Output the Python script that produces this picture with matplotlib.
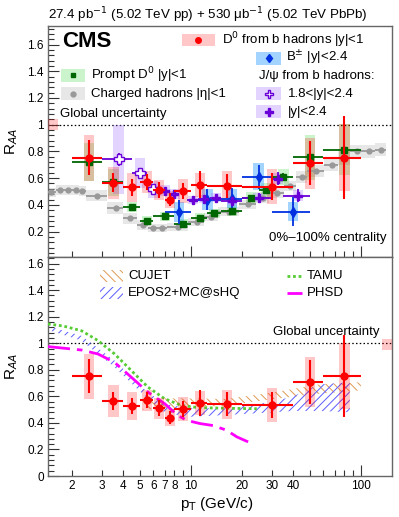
import numpy as np
import matplotlib
matplotlib.use('Agg')
import matplotlib.pyplot as plt
from matplotlib.patches import Rectangle
from matplotlib.lines import Line2D
from matplotlib.ticker import FixedLocator, FuncFormatter, MultipleLocator

plt.rcParams['font.family'] = ['Liberation Sans', 'DejaVu Sans']
plt.rcParams['hatch.linewidth'] = 0.7

# D0 from b hadrons |y|<1 (red)
np_pt = [2.5, 3.5, 4.5, 5.5, 6.5, 7.5, 9.0, 11.25, 16.25, 30.0, 50.0, 80.0]
np_lo = [2, 3, 4, 5, 6, 7, 8, 10, 12.5, 20, 40, 60]
np_hi = [3, 4, 5, 6, 7, 8, 10, 12.5, 20, 40, 60, 100]
np_raa = [0.752, 0.565, 0.53, 0.57, 0.51, 0.44, 0.505, 0.55, 0.54, 0.535, 0.71, 0.752]
np_stat = [0.13, 0.07, 0.06, 0.06, 0.06, 0.05, 0.06, 0.10, 0.09, 0.10, 0.165, 0.31]
np_sys = [0.17, 0.12, 0.105, 0.08, 0.077, 0.065, 0.09, 0.09, 0.11, 0.13, 0.19, 0.25]

# prompt D0 |y|<1 (green)
pd_pt = [2.5, 3.5, 4.5, 5.5, 7, 9, 11.25, 13.75, 17.5, 22.5, 27.5, 35, 50, 80]
pd_lo = [2, 3, 4, 5, 6, 8, 10, 12.5, 15, 20, 25, 30, 40, 60]
pd_hi = [3, 4, 5, 6, 8, 10, 12.5, 15, 20, 25, 30, 40, 60, 100]
pd_raa = [0.72, 0.57, 0.385, 0.282, 0.315, 0.258, 0.303, 0.337, 0.357, 0.452, 0.51, 0.61, 0.755, 0.812]
pd_stat = [0.03, 0.03, 0.02, 0.015, 0.015, 0.015, 0.015, 0.015, 0.02, 0.025, 0.03, 0.03, 0.04, 0.05]
pd_sys = [0.14, 0.10, 0.04, 0.035, 0.035, 0.035, 0.035, 0.035, 0.04, 0.045, 0.05, 0.06, 0.17, 0.19]

# charged hadrons |eta|<1 (gray)
ch_lo = [1.4, 1.6, 1.8, 2.0, 2.2, 2.4, 3.2, 4.0, 4.8, 5.6, 6.4, 7.2, 9.6, 12.0, 14.4, 19.2,
         24.0, 28.8, 35.2, 41.6, 48.0, 60.8, 73.6, 86.4, 103.6, 120.8]
ch_hi = [1.6, 1.8, 2.0, 2.2, 2.4, 3.2, 4.0, 4.8, 5.6, 6.4, 7.2, 9.6, 12.0, 14.4, 19.2, 24.0,
         28.8, 35.2, 41.6, 48.0, 60.8, 73.6, 86.4, 103.6, 120.8, 140.0]
ch_raa = [0.494, 0.512, 0.512, 0.512, 0.505, 0.47, 0.377, 0.30, 0.25, 0.23, 0.228, 0.235,
          0.27, 0.31, 0.35, 0.405, 0.455, 0.49, 0.542, 0.605, 0.655, 0.697, 0.75, 0.80, 0.80, 0.814]
ch_sys = [0.035, 0.035, 0.035, 0.035, 0.035, 0.04, 0.045, 0.04, 0.035, 0.03, 0.03, 0.03,
          0.03, 0.03, 0.035, 0.035, 0.04, 0.04, 0.04, 0.045, 0.045, 0.045, 0.05, 0.05, 0.05, 0.05]

# B+- |y|<2.4 (blue)
b_pt = [8.5, 12.5, 17.5, 25, 40]
b_lo = [7, 10, 15, 20, 30]
b_hi = [10, 15, 20, 30, 50]
b_raa = [0.345, 0.44, 0.445, 0.612, 0.35]
b_stat = [0.09, 0.08, 0.08, 0.09, 0.11]
b_sys = [0.075, 0.08, 0.07, 0.10, 0.07]

# J/psi from b hadrons 1.8<|y|<2.4 (open purple)
jo_pt = [3.75, 5.0, 6.0]
jo_lo = [3, 4.5, 5.5]
jo_hi = [4.5, 5.5, 6.5]
jo_raa = [0.74, 0.637, 0.515]
jo_stat = [0.05, 0.04, 0.03]
jo_sys = [0.26, 0.11, 0.06]

# J/psi from b hadrons |y|<2.4 (filled purple)
jf_pt = [7.0, 8.0, 10.25, 12.0, 14.0, 17.5, 25.0, 32.5, 42.5]
jf_lo = [6.5, 7.5, 9.5, 11, 13, 15, 20, 30, 35]
jf_hi = [7.5, 8.5, 11, 13, 15, 20, 30, 35, 50]
jf_raa = [0.505, 0.48, 0.44, 0.445, 0.455, 0.43, 0.455, 0.595, 0.47]
jf_stat = [0.03, 0.03, 0.025, 0.025, 0.025, 0.025, 0.03, 0.05, 0.05]
jf_sys = [0.04, 0.035, 0.03, 0.03, 0.03, 0.03, 0.035, 0.04, 0.04]

# models
tamu_pt = [1.44, 1.77, 2.27, 2.84, 3.55, 4.46, 5.58, 7.0, 8.77, 11.0, 16.5, 24.4]
tamu_raa = [1.145, 1.13, 1.094, 1.02, 0.92, 0.794, 0.67, 0.582, 0.532, 0.515, 0.51, 0.507]
phsd_pt = [1.44, 2.27, 2.84, 3.55, 4.46, 5.58, 7.0, 8.3, 9.4, 11.3, 13.5, 16.2, 18.6, 21.7]
phsd_raa = [0.975, 0.949, 0.919, 0.856, 0.744, 0.632, 0.545, 0.46, 0.42, 0.395, 0.38, 0.345, 0.295, 0.257]
epos_pt = [1.44, 2.27, 3.55, 5.58, 7.0, 9.5, 16.5, 30.5, 40, 57, 86]
epos_lo = [1.10, 1.02, 0.82, 0.58, 0.48, 0.445, 0.46, 0.48, 0.49, 0.49, 0.48]
epos_hi = [1.13, 1.056, 0.87, 0.63, 0.545, 0.51, 0.51, 0.56, 0.60, 0.69, 0.706]
cujet_pt = [5.2, 7.0, 11.0, 16.2, 30.5, 57, 100]
cujet_lo = [0.50, 0.51, 0.52, 0.53, 0.58, 0.62, 0.645]
cujet_hi = [0.58, 0.585, 0.584, 0.58, 0.63, 0.69, 0.706]

RED = '#ff0000'
GREEN, LGREEN = '#006600', '#00cc00'
BLUE, LBLUE = '#0030e0', '#33a0ff'
PURP, LPURP = '#6a00d8', '#a070ff'
GRAY = '#999999'
RALPHA = 0.22

fig = plt.figure(figsize=(3.99, 5.17), dpi=100)
ax1 = fig.add_axes([0.120, 0.503, 0.862, 0.447])
ax2 = fig.add_axes([0.120, 0.0793, 0.862, 0.4237])


def sysboxes(ax, pt, val, err, color, alpha, z, lo=None, hi=None, hw=0.03):
    for i in range(len(pt)):
        if lo is None:
            x0, x1 = pt[i] * 10 ** -hw, pt[i] * 10 ** hw
        else:
            x0, x1 = lo[i], hi[i]
        ax.add_patch(Rectangle((x0, val[i] - err[i]), x1 - x0, 2 * err[i],
                               facecolor=color, alpha=alpha, lw=0, zorder=z))


def points(ax, pt, val, lo, hi, stat, color, marker, ms, z, mfc=None, elw=1.3):
    pt = np.array(pt)
    ax.errorbar(pt, val, xerr=[pt - np.array(lo), np.array(hi) - pt], yerr=stat,
                fmt=marker, color=color, ms=ms, mfc=mfc or color, mec=color,
                elinewidth=elw, capsize=0, zorder=z)


for ax in (ax1, ax2):
    ax.set_xscale('log')
    ax.set_xlim(1.44, 152)
    ax.axhline(1.0, color='k', ls=(0, (1.2, 1.8)), lw=0.9, zorder=1)
    ax.xaxis.set_major_locator(FixedLocator([10, 100]))
    ax.xaxis.set_minor_locator(FixedLocator([2, 3, 4, 5, 6, 7, 8, 9, 20, 30, 40, 50, 60, 70, 80, 90]))
    ax.yaxis.set_major_locator(MultipleLocator(0.2))
    ax.yaxis.set_minor_locator(MultipleLocator(0.04))
    ax.yaxis.set_major_formatter(FuncFormatter(lambda v, p: '%g' % round(v, 2)))
    ax.tick_params(which='major', direction='in', length=8, width=0.8, labelsize=8.5, pad=3, color='#333333')
    ax.tick_params(which='minor', direction='in', length=4, width=0.8, labelsize=8.5, pad=3, color='#333333')
    for s in ax.spines.values():
        s.set_color('#666666')
        s.set_linewidth(1.0)
    ax.set_ylabel(r'R$_{AA}$', fontsize=11)
    ax.yaxis.set_label_coords(-0.08, 0.5)

ax1.set_ylim(0.01, 1.74)
ax2.set_ylim(0, 1.65)
ax1.tick_params(axis='x', which='both', labelbottom=False)

minor_labels = {2: '2', 3: '3', 4: '4', 5: '5', 6: '6', 7: '7', 8: '8', 20: '20', 30: '30', 40: '40'}
ax2.xaxis.set_major_formatter(FuncFormatter(lambda v, p: '%g' % v))
ax2.xaxis.set_minor_formatter(FuncFormatter(lambda v, p: minor_labels.get(int(round(v)), '')))
ax2.set_xlabel(r'p$_{\rm T}$ (GeV/c)', fontsize=11)
ax2.xaxis.set_label_coords(0.49, -0.085)

# ---------- top panel ----------
ch_pt = [0.5 * (a + b) for a, b in zip(ch_lo, ch_hi)]
sysboxes(ax1, ch_pt, ch_raa, ch_sys, '#bbbbbb', 0.35, 2, ch_lo, ch_hi)
sysboxes(ax1, pd_pt, pd_raa, pd_sys, LGREEN, 0.2, 3)
sysboxes(ax1, b_pt, b_raa, b_sys, LBLUE, 0.45, 3)
sysboxes(ax1, jo_pt, jo_raa, jo_sys, LPURP, 0.3, 3)
sysboxes(ax1, jf_pt, jf_raa, jf_sys, LPURP, 0.3, 3)
sysboxes(ax1, np_pt, np_raa, np_sys, RED, RALPHA, 4)

points(ax1, ch_pt, ch_raa, ch_lo, ch_hi, [0.005] * len(ch_pt), GRAY, 'o', 3.5, 5)
points(ax1, pd_pt, pd_raa, pd_lo, pd_hi, pd_stat, GREEN, 's', 4, 6)
points(ax1, b_pt, b_raa, b_lo, b_hi, b_stat, BLUE, 'd', 5, 6)
points(ax1, jf_pt, jf_raa, jf_lo, jf_hi, jf_stat, PURP, 'P', 6, 6)
points(ax1, jo_pt, jo_raa, jo_lo, jo_hi, jo_stat, PURP, 'P', 7, 6, mfc='white')
points(ax1, np_pt, np_raa, np_lo, np_hi, np_stat, RED, 'o', 5, 7, elw=1.5)

# global uncertainty box (left edge)
ax1.add_patch(Rectangle((0.0, 0.96), 0.028, 0.08, transform=ax1.get_yaxis_transform(),
                        facecolor=RED, alpha=RALPHA, lw=0, zorder=4))

ax1.text(0.041, 0.932, 'CMS', transform=ax1.transAxes, fontsize=16, fontweight='bold', va='center')
ax1.text(0.035, 0.618, 'Global uncertainty', transform=ax1.transAxes, fontsize=9.5, va='center')
ax1.text(0.985, 0.08, '0%\u2013100% centrality', transform=ax1.transAxes, fontsize=9.5,
         va='center', ha='right')


def legbox(ax, x0, x1, yc, h, color, alpha, marker=None, mcolor=None, ms=4.5, mfc=None, hatch=None):
    if hatch:
        ax.add_patch(Rectangle((x0, yc - h / 2), x1 - x0, h, transform=ax.transAxes, facecolor='none',
                               edgecolor=color, hatch=hatch, lw=0, zorder=8))
    else:
        ax.add_patch(Rectangle((x0, yc - h / 2), x1 - x0, h, transform=ax.transAxes, facecolor=color,
                               alpha=alpha, lw=0, zorder=8))
    if marker:
        ax.plot([(x0 + x1) / 2], [yc], marker=marker, color=mcolor, ms=ms, mfc=mfc or mcolor,
                transform=ax.transAxes, zorder=9, ls='none')


legbox(ax1, 0.390, 0.485, 0.939, 0.055, RED, RALPHA, 'o', RED, 4)
ax1.text(0.506, 0.939, r'D$^{0}$ from b hadrons |y|<1', transform=ax1.transAxes, fontsize=9.5, va='center')
legbox(ax1, 0.606, 0.679, 0.860, 0.055, LBLUE, 0.45, 'd', BLUE, 4.5)
ax1.text(0.692, 0.860, r'B$^{\pm}$ |y|<2.4', transform=ax1.transAxes, fontsize=9.5, va='center')
legbox(ax1, 0.038, 0.108, 0.786, 0.055, LGREEN, 0.2, 's', GREEN, 3.5)
ax1.text(0.124, 0.786, r'Prompt D$^{0}$ |y|<1', transform=ax1.transAxes, fontsize=9.5, va='center')
legbox(ax1, 0.038, 0.108, 0.707, 0.055, '#bbbbbb', 0.35, 'o', GRAY, 3.5)
ax1.text(0.124, 0.707, 'Charged hadrons |\u03b7|<1', transform=ax1.transAxes, fontsize=9.5, va='center')
ax1.text(0.614, 0.784, 'J/\u03c8 from b hadrons:', transform=ax1.transAxes, fontsize=9.5, va='center')
legbox(ax1, 0.606, 0.679, 0.707, 0.055, LPURP, 0.3, 'P', PURP, 6, mfc='white')
ax1.text(0.698, 0.707, '1.8<|y|<2.4', transform=ax1.transAxes, fontsize=9.5, va='center')
legbox(ax1, 0.606, 0.679, 0.629, 0.055, LPURP, 0.3, 'P', PURP, 5.5)
ax1.text(0.698, 0.629, '|y|<2.4', transform=ax1.transAxes, fontsize=9.5, va='center')

fig.text(0.12, 0.971, '27.4 pb$^{-1}$ (5.02 TeV pp) + 530 \u03bcb$^{-1}$ (5.02 TeV PbPb)',
         fontsize=9.6, va='center', ha='left')

# ---------- bottom panel ----------
ax2.fill_between(cujet_pt, cujet_lo, cujet_hi, facecolor='none', edgecolor='#e09a50',
                 hatch='\\\\\\\\', lw=0, zorder=2)
ax2.fill_between(epos_pt, epos_lo, epos_hi, facecolor='none', edgecolor='#5a5aff',
                 hatch='////', lw=0, zorder=2)
ax2.plot(tamu_pt, tamu_raa, color='#55cc33', ls=(0, (1, 1)), lw=2, zorder=3)
ax2.plot(phsd_pt, phsd_raa, color='#ff00ff', ls=(0, (8, 2.5, 2, 2.5)), lw=2, zorder=3)

sysboxes(ax2, np_pt, np_raa, np_sys, RED, RALPHA, 4)
points(ax2, np_pt, np_raa, np_lo, np_hi, np_stat, RED, 'o', 5, 7, elw=1.5)

ax2.add_patch(Rectangle((0.971, 0.95), 0.029, 0.08, transform=ax2.get_yaxis_transform(),
                        facecolor=RED, alpha=RALPHA, lw=0, zorder=4))
ax2.text(0.965, 0.659, 'Global uncertainty', transform=ax2.transAxes, fontsize=9.5,
         va='center', ha='right')

legbox(ax2, 0.151, 0.218, 0.915, 0.055, '#e09a50', 1, hatch='\\\\\\\\')
ax2.text(0.233, 0.915, 'CUJET', transform=ax2.transAxes, fontsize=9.5, va='center')
legbox(ax2, 0.151, 0.218, 0.834, 0.055, '#5a5aff', 1, hatch='////')
ax2.text(0.233, 0.834, 'EPOS2+MC@sHQ', transform=ax2.transAxes, fontsize=9.5, va='center')
ax2.add_line(Line2D([0.695, 0.738], [0.915, 0.915], transform=ax2.transAxes, color='#55cc33',
                    ls=(0, (1, 1)), lw=2))
ax2.text(0.753, 0.915, 'TAMU', transform=ax2.transAxes, fontsize=9.5, va='center')
ax2.add_line(Line2D([0.695, 0.738], [0.834, 0.834], transform=ax2.transAxes, color='#ff00ff',
                    ls=(0, (8, 2.5, 2, 2.5)), lw=2))
ax2.text(0.753, 0.834, 'PHSD', transform=ax2.transAxes, fontsize=9.5, va='center')

fig.savefig('out.png', dpi=100)
